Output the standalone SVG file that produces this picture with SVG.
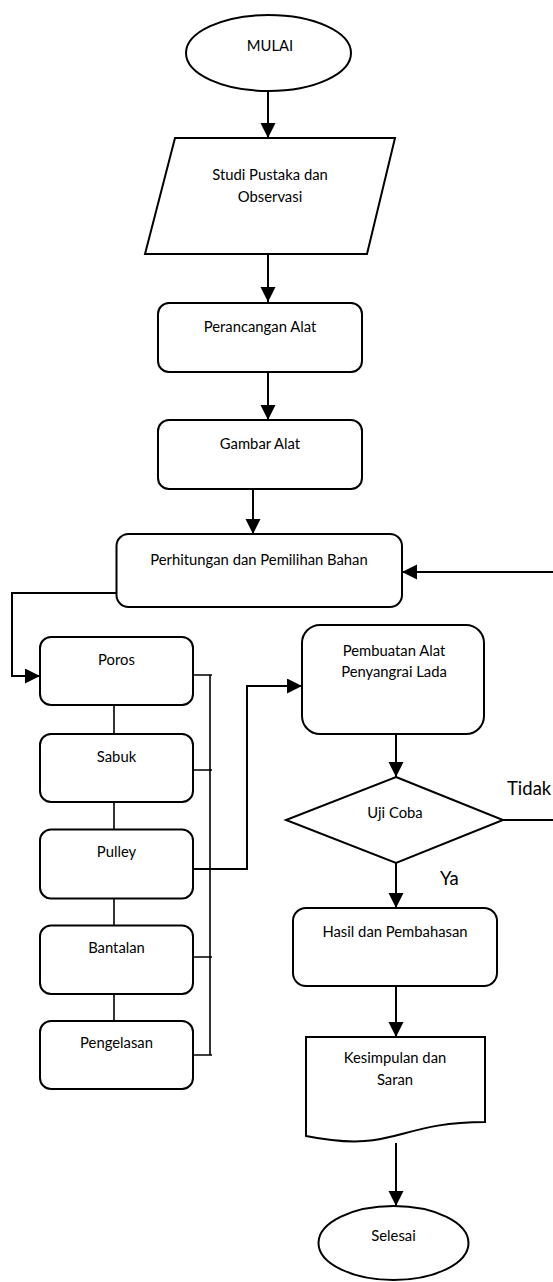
<svg xmlns="http://www.w3.org/2000/svg" width="553" height="1282" viewBox="0 0 553 1282">
<style>
.s{fill:#fff;stroke:#000;stroke-width:2}
.t{font-family:Lato,"Liberation Sans",sans-serif;font-size:14.8px;fill:#000;text-anchor:middle}
.b{font-family:Lato,"Liberation Sans",sans-serif;font-size:18.5px;fill:#000}
.c{fill:none;stroke:#000;stroke-width:2}
.l{fill:none;stroke:#000;stroke-width:1.6}
</style>
<defs>
<marker id="ah" markerUnits="userSpaceOnUse" markerWidth="16" markerHeight="16" refX="15" refY="7.5" orient="auto">
<path d="M0,0 L15,7.5 L0,15 Z" fill="#000"/>
</marker>
</defs>
<g id="connectors">
<path class="c" d="M268,91 V138" marker-end="url(#ah)"/>
<path class="c" d="M268,254 V302" marker-end="url(#ah)"/>
<path class="c" d="M268,372 V420" marker-end="url(#ah)"/>
<path class="c" d="M253,489 V534" marker-end="url(#ah)"/>
<path class="c" d="M116,593 H12 V676 H40" marker-end="url(#ah)"/>
<path class="l" d="M114,705 V734 M114,802 V829 M114,898 V925 M114,994 V1021"/>
<path class="l" d="M193,675 H212 M193,770 H212 M193,957 H212 M193,1055 H212 M210,675 V1055"/>
<path class="c" d="M191,869 H247 V686 H302" marker-end="url(#ah)"/>
<path class="c" d="M396,734 V777" marker-end="url(#ah)"/>
<path class="c" d="M503,820 H556 V572 H402" marker-end="url(#ah)"/>
<path class="c" d="M396,863 V908" marker-end="url(#ah)"/>
<path class="c" d="M396,986 V1037" marker-end="url(#ah)"/>
<path class="c" d="M396,1143 V1206" marker-end="url(#ah)"/>
<text class="b" x="507" y="795">Tidak</text>
<text class="b" x="440" y="885">Ya</text>
</g>
<g id="mulai">
<ellipse class="s" cx="268.5" cy="53" rx="82.5" ry="38"/>
<text class="t" x="270" y="51">MULAI</text>
</g>
<g id="studi">
<polygon class="s" points="175,138 395,138 367,254 145,254"/>
<text class="t" x="270" y="180">Studi Pustaka dan</text>
<text class="t" x="270" y="202">Observasi</text>
</g>
<g id="perancangan">
<rect class="s" x="158" y="303" width="204" height="69" rx="11"/>
<text class="t" x="260" y="332">Perancangan Alat</text>
</g>
<g id="gambar">
<rect class="s" x="158" y="420" width="204" height="69" rx="11"/>
<text class="t" x="260" y="449">Gambar Alat</text>
</g>
<g id="perhitungan">
<rect class="s" x="116.5" y="534" width="285.5" height="73" rx="12"/>
<text class="t" x="259" y="565">Perhitungan dan Pemilihan Bahan</text>
</g>
<g id="poros">
<rect class="s" x="40" y="637" width="153" height="68" rx="11"/>
<text class="t" x="116.5" y="665">Poros</text>
</g>
<g id="sabuk">
<rect class="s" x="40" y="734" width="153" height="68" rx="11"/>
<text class="t" x="116.5" y="762">Sabuk</text>
</g>
<g id="pulley">
<rect class="s" x="40" y="829.5" width="153" height="69" rx="11"/>
<text class="t" x="116.5" y="857">Pulley</text>
</g>
<g id="bantalan">
<rect class="s" x="40" y="925.5" width="153" height="68.5" rx="11"/>
<text class="t" x="116.5" y="953">Bantalan</text>
</g>
<g id="pengelasan">
<rect class="s" x="40" y="1021" width="153" height="68" rx="11"/>
<text class="t" x="116.5" y="1048">Pengelasan</text>
</g>
<g id="pembuatan">
<rect class="s" x="302" y="625" width="182" height="109" rx="18"/>
<text class="t" x="394" y="656">Pembuatan Alat</text>
<text class="t" x="394" y="677">Penyangrai Lada</text>
</g>
<g id="ujicoba">
<polygon class="s" points="396,777 503,820 396,863 286,820"/>
<text class="t" x="395" y="818">Uji Coba</text>
</g>
<g id="hasil">
<rect class="s" x="293" y="908" width="204" height="78" rx="13"/>
<text class="t" x="395" y="937">Hasil dan Pembahasan</text>
</g>
<g id="kesimpulan">
<path class="s" d="M306,1037 H485 V1122 C395.5,1122 395.5,1154 306,1136 Z"/>
<text class="t" x="395" y="1063">Kesimpulan dan</text>
<text class="t" x="395" y="1085">Saran</text>
</g>
<g id="selesai">
<ellipse class="s" cx="393.5" cy="1243" rx="75" ry="37"/>
<text class="t" x="393.5" y="1241">Selesai</text>
</g>
</svg>
